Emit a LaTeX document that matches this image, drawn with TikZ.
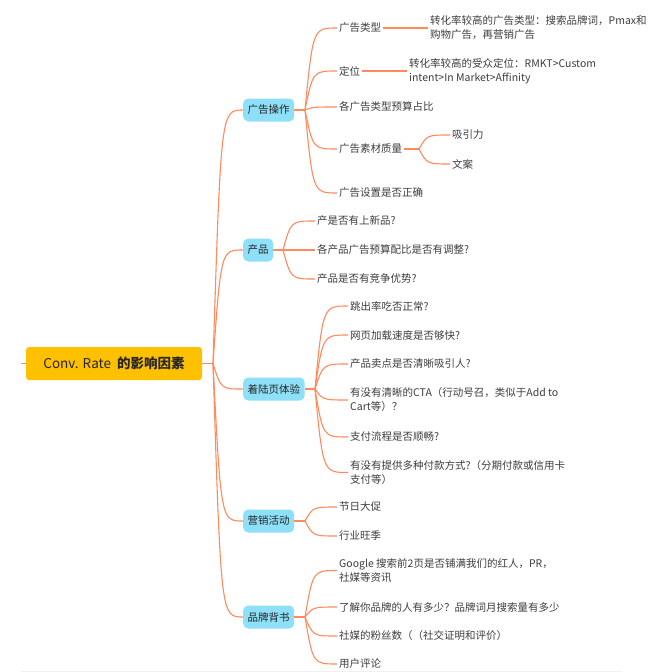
\documentclass[tikz,border=0pt]{standalone}
\usepackage{fontspec}
\setmainfont{Noto Sans CJK SC}
\usepackage{tikz}
\usetikzlibrary{calc}

\definecolor{linkc}{RGB}{255,138,92}
\definecolor{topicc}{RGB}{142,223,248}
\definecolor{rootc}{RGB}{255,192,0}
\definecolor{leaftext}{RGB}{60,60,60}

\begin{document}
\begin{tikzpicture}[x=1pt, y=-1pt,
    root node/.style={rectangle, rounded corners=3pt, fill=rootc, minimum width=176pt,
                      minimum height=33pt, font=\fontsize{13.5}{15}\selectfont, text=black!85},
    topic node/.style={rectangle, rounded corners=5pt, fill=topicc, anchor=west, minimum height=23pt,
                       inner xsep=4.5pt, font=\fontsize{10.5}{12}\selectfont, text=black!85},
    leaf node/.style={anchor=west, inner sep=2pt, align=left,
                      font=\fontsize{10.5}{14}\selectfont, text=leaftext},
    every edge/.style={draw=linkc, line width=1.1pt,
                       to path={.. controls ($(\tikztostart |- \tikztotarget)+(8,0)$) .. (\tikztotarget)}}]

  \useasboundingbox (0,0) rectangle (650,672);

  % centre
  \node[root node] (root) at (114,363.5) {Conv. Rate\ \ \textbf{的影响因素}};
  \coordinate (stub) at (21,363.5);
  \coordinate (j0) at (213,363.5);

  % main topics
  \node[topic node] (ops)   at (243,110) {广告操作};
  \node[topic node] (prod)  at (243,250) {产品};
  \node[topic node] (land)  at (243,389) {着陆页体验};
  \node[topic node] (promo) at (243,521) {营销活动};
  \node[topic node] (brand) at (243,617) {品牌背书};

  \coordinate (j1) at (305,110);
  \coordinate (j2) at (283,250);
  \coordinate (j3) at (315,389);
  \coordinate (j4) at (305,521);
  \coordinate (j5) at (305,617);

  % ad operation
  \node[leaf node] (a1)  at (337,28)  {广告类型};
  \node[leaf node] (a1x) at (428,28)  {转化率较高的广告类型：搜索品牌词，Pmax和\\购物广告，再营销广告};
  \node[leaf node] (a2)  at (337,71)  {定位};
  \node[leaf node] (a2x) at (407,71)  {转化率较高的受众定位：RMKT>Custom\\intent>In Market>Affinity};
  \node[leaf node] (a3)  at (337,107) {各广告类型预算占比};
  \node[leaf node] (a4)  at (337,149) {广告素材质量};
  \coordinate (ja4) at (419,149);
  \node[leaf node] (a41) at (450,135) {吸引力};
  \node[leaf node] (a42) at (450,164) {文案};
  \node[leaf node] (a5)  at (337,193) {广告设置是否正确};

  % product
  \node[leaf node] (b1) at (315,221) {产是否有上新品?};
  \node[leaf node] (b2) at (315,250) {各产品广告预算配比是否有调整?};
  \node[leaf node] (b3) at (315,279) {产品是否有竞争优势?};

  % landing page
  \node[leaf node] (c1) at (348,306) {跳出率吃否正常?};
  \node[leaf node] (c2) at (348,335) {网页加载速度是否够快?};
  \node[leaf node] (c3) at (348,364) {产品卖点是否清晰吸引人?};
  \node[leaf node] (c4) at (348,400) {有没有清晰的CTA（行动号召，类似于Add to\\Cart等）？};
  \node[leaf node] (c5) at (348,437) {支付流程是否顺畅?};
  \node[leaf node] (c6) at (348,472.5) {有没有提供多种付款方式?（分期付款或信用卡\\支付等）};

  % promotion
  \node[leaf node] (d1) at (337,507) {节日大促};
  \node[leaf node] (d2) at (337,536) {行业旺季};

  % brand
  \node[leaf node] (e1) at (337,570.5) {Google 搜索前2页是否铺满我们的红人，PR，\\社媒等资讯};
  \node[leaf node] (e2) at (337,607) {了解你品牌的人有多少？品牌词月搜索量有多少};
  \node[leaf node] (e3) at (337,636) {社媒的粉丝数（（社交证明和评价）};
  \node[leaf node] (e4) at (337,664) {用户评论};

  \path[draw=linkc, line width=1.1pt]
    (stub) -- (root.west) (root.east) -- (j0)
    (ops.east) -- (j1) (prod.east) -- (j2) (land.east) -- (j3)
    (promo.east) -- (j4) (brand.east) -- (j5)
    (a1.east) -- (a1x.west) (a2.east) -- (a2x.west) (a4.east) -- (ja4);

  \path (j0) edge (ops.west) edge (prod.west) edge (land.west) edge (promo.west) edge (brand.west)
        (j1) edge (a1.west) edge (a2.west) edge (a3.west) edge (a4.west) edge (a5.west)
        (ja4) edge (a41.west) edge (a42.west)
        (j2) edge (b1.west) edge (b2.west) edge (b3.west)
        (j3) edge (c1.west) edge (c2.west) edge (c3.west) edge (c4.west) edge (c5.west) edge (c6.west)
        (j4) edge (d1.west) edge (d2.west)
        (j5) edge (e1.west) edge (e2.west) edge (e3.west) edge (e4.west);

  \draw[gray!12, line width=0.8pt] (21,671.5) -- (622,671.5);
\end{tikzpicture}
\end{document}
